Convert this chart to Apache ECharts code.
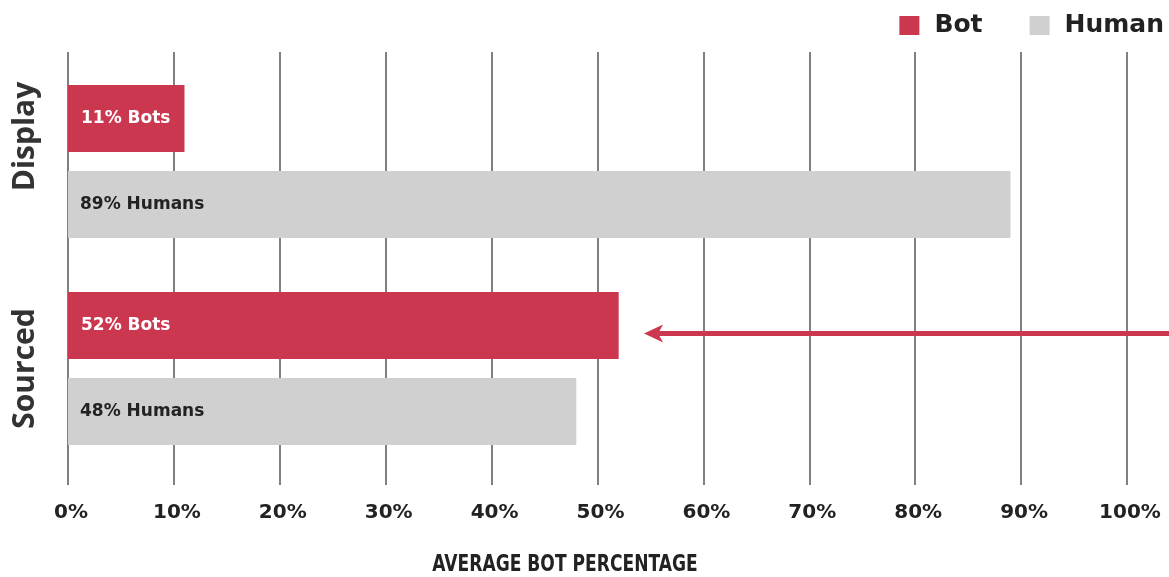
<!DOCTYPE html>
<html>
<head>
<meta charset="utf-8">
<script src="https://cdn.jsdelivr.net/npm/echarts@6/dist/echarts.min.js"></script>
<style>
  html, body { margin: 0; padding: 0; background: #ffffff; }
  #chart { width: 1169px; height: 577px; }
</style>
</head>
<body>
<div id="chart"></div>
<script>
// Traffic sources and the share of bot vs human visits (percent)
const categories = ['Display', 'Sourced'];
const botValues = [11, 52];
const humanValues = [89, 48];
const seriesNames = ['Bot', 'Human'];
const xTicks = { min: 0, max: 100, interval: 10 };
const xAxisTitle = 'AVERAGE BOT PERCENTAGE';
// Callout arrow on the Sourced row, running from beyond 100% back toward the bot bar
const arrowFrom = 104;
const arrowTo = 54.4;

const RED = '#CC3750';
const GRAY = '#D0D0D0';
const TEXT = '#222222';
const FONT = 'Open Sans';
const WIDE = 'DejaVu Sans';

const chart = echarts.init(document.getElementById('chart'), null, { renderer: 'canvas' });

const option = {
  backgroundColor: '#ffffff',
  animation: false,
  legend: {
    data: seriesNames,
    right: 0,
    top: 8,
    icon: 'rect',
    itemWidth: 20,
    itemHeight: 19,
    itemGap: 47,
    textStyle: { fontFamily: WIDE, fontSize: 25, fontWeight: 'bold', color: TEXT, padding: [0, 0, 0, 10] }
  },
  grid: [
    // frame grid: vertical gridlines and percentage ticks
    { left: 68, right: 42, top: 52, bottom: 92 },
    // bar grid
    { left: 68, right: 42, top: 58, bottom: 105 }
  ],
  xAxis: [
    {
      gridIndex: 0,
      type: 'value',
      min: xTicks.min,
      max: xTicks.max,
      interval: xTicks.interval,
      axisLine: { show: false },
      axisTick: { show: false },
      splitLine: { show: true, showMinLine: true, showMaxLine: true, lineStyle: { color: '#808080', width: 2 } },
      axisLabel: {
        formatter: '{value}%',
        margin: 18,
        fontFamily: WIDE,
        fontSize: 20,
        fontWeight: 'bold',
        color: TEXT,
        padding: [0, 0, 0, 6]
      }
    },
    {
      gridIndex: 1,
      type: 'value',
      min: xTicks.min,
      max: xTicks.max,
      show: false
    }
  ],
  yAxis: [
    {
      gridIndex: 0,
      type: 'value',
      show: false
    },
    {
      gridIndex: 1,
      type: 'category',
      data: categories,
      inverse: true,
      axisLine: { show: false },
      axisTick: { show: false },
      splitLine: { show: false },
      axisLabel: {
        rotate: 90,
        margin: 28,
        formatter: function (v) { return v === 'Display' ? '{d|' + v + '}' : '{s|' + v + '}'; },
        rich: {
          d: { fontFamily: FONT, fontSize: 30, fontWeight: 'bold', color: '#333333', padding: [0, 0, 0, 50] },
          s: { fontFamily: FONT, fontSize: 30, fontWeight: 'bold', color: '#333333', padding: [0, 0, 0, 0] }
        }
      }
    }
  ],
  series: [
    {
      name: seriesNames[0],
      type: 'bar',
      xAxisIndex: 1,
      yAxisIndex: 1,
      data: botValues,
      barWidth: 67,
      barGap: '28%',
      itemStyle: { color: RED },
      label: {
        show: true,
        position: 'insideLeft',
        distance: 13,
        formatter: '{c}% Bots',
        fontFamily: WIDE,
        fontSize: 17,
        fontWeight: 'bold',
        color: '#ffffff'
      }
    },
    {
      name: seriesNames[1],
      type: 'bar',
      xAxisIndex: 1,
      yAxisIndex: 1,
      data: humanValues,
      barWidth: 67,
      itemStyle: { color: GRAY },
      label: {
        show: true,
        position: 'insideLeft',
        distance: 12,
        formatter: '{c}% Humans',
        fontFamily: WIDE,
        fontSize: 17,
        fontWeight: 'bold',
        color: TEXT
      }
    }
  ]
};

chart.setOption(option);

// Arrow placed through the axis scales
const xTip = chart.convertToPixel({ xAxisIndex: 1 }, arrowTo);
const xTail = chart.convertToPixel({ xAxisIndex: 1 }, arrowFrom);
const yRow = chart.convertToPixel({ yAxisIndex: 1 }, 'Sourced') - 35;

chart.setOption({
  graphic: [
    {
      type: 'line',
      z: 100,
      shape: { x1: xTail, y1: yRow, x2: xTip + 14, y2: yRow },
      style: { stroke: RED, lineWidth: 5 }
    },
    {
      type: 'polygon',
      z: 101,
      shape: {
        points: [
          [xTip, yRow],
          [xTip + 19, yRow - 9],
          [xTip + 14, yRow],
          [xTip + 19, yRow + 9]
        ]
      },
      style: { fill: RED }
    },
    {
      // x-axis title in a narrow face
      type: 'text',
      x: 565,
      y: 565,
      scaleX: 0.845,
      style: {
        text: xAxisTitle,
        font: 'bold 22.5px "DejaVu Sans Condensed", "DejaVu Sans"',
        fill: TEXT,
        align: 'center',
        verticalAlign: 'middle'
      }
    }
  ]
});
</script>
</body>
</html>
